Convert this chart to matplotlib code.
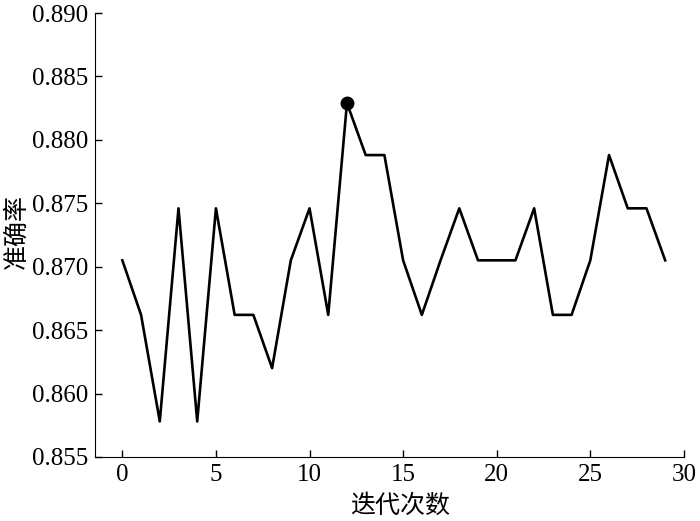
import matplotlib.pyplot as plt

iterations = list(range(30))
accuracy = [0.8705, 0.8662, 0.8578, 0.8746, 0.8578, 0.8746, 0.8662, 0.8662,
            0.8620, 0.8705, 0.8746, 0.8662, 0.8829, 0.8788, 0.8788, 0.8705,
            0.8662, 0.8705, 0.8746, 0.8705, 0.8705, 0.8705, 0.8746, 0.8662,
            0.8662, 0.8705, 0.8788, 0.8746, 0.8746, 0.8705]
best_iter = 12
x_ticks = [0, 5, 10, 15, 20, 25, 30]
y_ticks = [0.855, 0.860, 0.865, 0.870, 0.875, 0.880, 0.885, 0.890]

plt.rcParams['font.family'] = ['Liberation Serif', 'Noto Sans CJK SC']

fig = plt.figure(figsize=(7, 5.21), dpi=100)
ax = fig.add_axes([0.136, 0.123, 0.841, 0.852])

ax.plot(iterations, accuracy, 'k-', linewidth=1.9)
ax.plot(best_iter, accuracy[best_iter], 'ko', markersize=9)

ax.set_xlim(-1.45, 30)
ax.set_ylim(0.855, 0.890)
ax.set_xticks(x_ticks)
ax.set_yticks(y_ticks)
ax.set_yticklabels([f"{v:.3f}" for v in y_ticks])
ax.tick_params(direction='in', labelsize=18, length=5, width=1, pad=5)
ax.spines['top'].set_visible(False)
ax.spines['right'].set_visible(False)

ax.set_xlabel("迭代次数", fontsize=18, family=['Noto Sans CJK SC'])
ax.set_ylabel("准确率", fontsize=18, family=['Noto Sans CJK SC'])
ax.xaxis.set_label_coords(0.518, -0.081)
ax.yaxis.set_label_coords(-0.112, 0.507)

fig.savefig("out.png", dpi=100)
